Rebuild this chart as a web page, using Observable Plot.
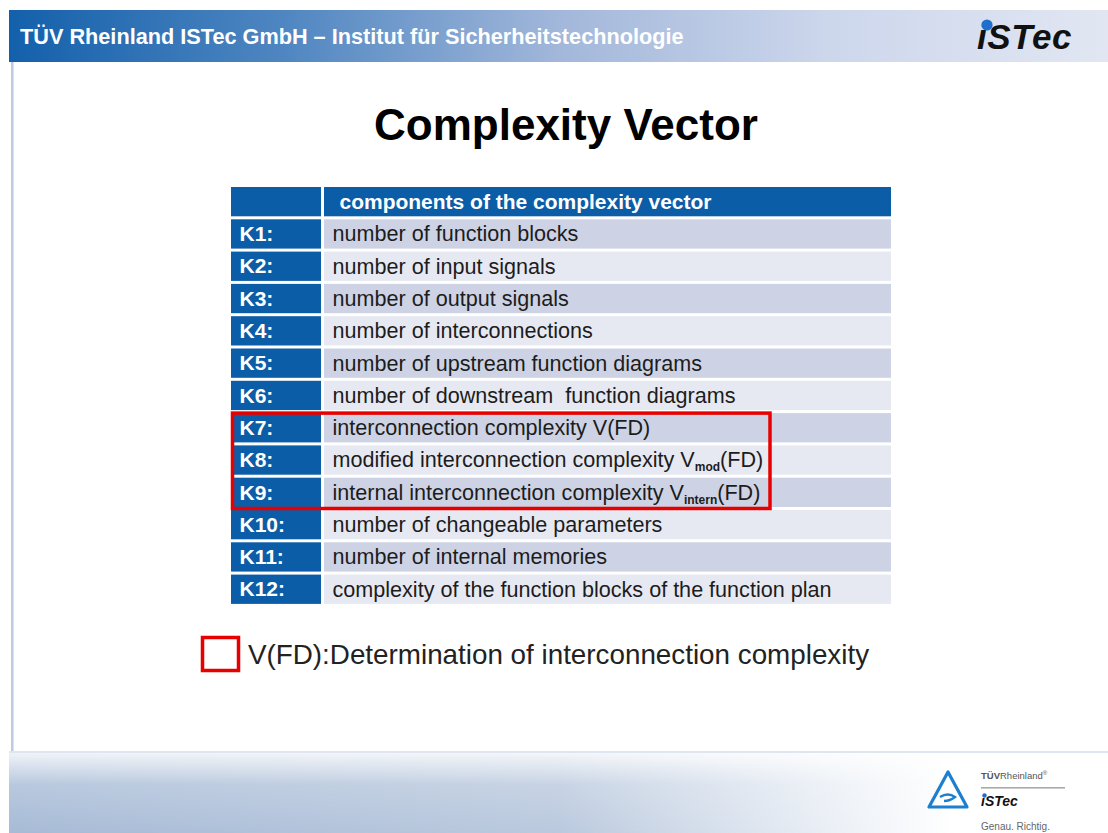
<!DOCTYPE html>
<html><head><meta charset="utf-8">
<script src="https://cdn.jsdelivr.net/npm/d3@7"></script>
<script src="https://cdn.jsdelivr.net/npm/@observablehq/plot@0.6"></script>
<style>
html,body{margin:0;padding:0;background:#fff;}
body{width:1108px;height:833px;position:relative;overflow:hidden;font-family:"Liberation Sans",Arial,sans-serif;}
#bg{position:absolute;left:0;top:0;}
#table{position:absolute;left:227px;top:183px;}
</style></head><body>
<svg id="bg" width="1108" height="833">
  <defs>
    <linearGradient id="band" x1="0" x2="1" y1="0" y2="0">
      <stop offset="0" stop-color="#1360ab"/>
      <stop offset="0.25" stop-color="#4f86c1"/>
      <stop offset="0.5" stop-color="#a2b7da"/>
      <stop offset="0.75" stop-color="#cdd7ec"/>
      <stop offset="1" stop-color="#e1e6f2"/>
    </linearGradient>
    <linearGradient id="foot" x1="0" x2="1" y1="0" y2="0">
      <stop offset="0" stop-color="#a7bbd6"/>
      <stop offset="0.5" stop-color="#bac9de"/>
      <stop offset="0.74" stop-color="#e9eef5"/>
      <stop offset="0.86" stop-color="#ffffff"/>
    </linearGradient>
    <linearGradient id="footv" x1="0" x2="0" y1="0" y2="1">
      <stop offset="0" stop-color="#ffffff" stop-opacity="0.85"/>
      <stop offset="0.4" stop-color="#ffffff" stop-opacity="0.2"/>
      <stop offset="1" stop-color="#ffffff" stop-opacity="0"/>
    </linearGradient>
  </defs>
  <rect x="9" y="10" width="1099" height="52" fill="url(#band)"/>
  <rect x="11" y="62" width="2.5" height="690" fill="#bccae2"/>
  <rect x="9" y="752" width="1099" height="81" fill="url(#foot)"/>
  <rect x="9" y="752" width="1099" height="81" fill="url(#footv)"/>
  <rect x="9" y="751" width="1099" height="2" fill="#dfe6ef"/>
  <g id="texts"></g>
</svg>
<div id="table"></div>
<script>
// ---- data ----
const bannerText = "TÜV Rheinland ISTec GmbH – Institut für Sicherheitstechnologie";
const logoText = "iSTec";
const slideTitle = "Complexity Vector";
const headerLabel = "components of the complexity vector";
const keys = ["K1:", "K2:", "K3:", "K4:", "K5:", "K6:", "K7:", "K8:", "K9:", "K10:", "K11:", "K12:"];
const descriptions = [
  "number of function blocks",
  "number of input signals",
  "number of output signals",
  "number of interconnections",
  "number of upstream function diagrams",
  "number of downstream  function diagrams",
  "interconnection complexity V(FD)",
  "modified interconnection complexity V_{mod}(FD)",
  "internal interconnection complexity V_{intern}(FD)",
  "number of changeable parameters",
  "number of internal memories",
  "complexity of the function blocks of the function plan"
];
const highlighted = ["K7:", "K8:", "K9:"];
const legendLabel = "V(FD):Determination of interconnection complexity";
const footerBrand = ["TÜVRheinland", "®"];
const footerLogo = "iSTec";
const footerSlogan = "Genau. Richtig.";

// ---- decorations / texts ----
const FONT = '"Liberation Sans", Arial, sans-serif';
const g = d3.select("#texts");
g.append("text").attr("x", 20).attr("y", 44).attr("fill", "#fff").attr("font-size", 21.7)
  .attr("font-weight", "bold").attr("font-family", FONT).text(bannerText);
g.append("text").attr("x", 977).attr("y", 49).attr("fill", "#111").attr("font-size", 35)
  .attr("font-weight", "bold").attr("font-style", "italic").attr("letter-spacing", 0.6)
  .attr("font-family", FONT).text(logoText);
g.append("circle").attr("cx", 987).attr("cy", 25).attr("r", 5.6).attr("fill", "#1f6fcf");
g.append("text").attr("x", 566).attr("y", 140).attr("text-anchor", "middle").attr("fill", "#000")
  .attr("font-size", 44).attr("font-weight", "bold").attr("font-family", FONT).text(slideTitle);
// legend
g.append("rect").attr("x", 202.5).attr("y", 637.5).attr("width", 36).attr("height", 33)
  .attr("fill", "none").attr("stroke", "#e80000").attr("stroke-width", 3.5);
g.append("text").attr("x", 248).attr("y", 664).attr("fill", "#222").attr("font-size", 27.8)
  .attr("font-family", FONT).text(legendLabel);
// footer logo
g.append("path").attr("d", "M948,772 L929,807 L967,807 Z").attr("fill", "none")
  .attr("stroke", "#1c7fcf").attr("stroke-width", 3.2).attr("stroke-linejoin", "round");
g.append("path").attr("d", "M940,797 Q948,792 955,797 Q950,801 944,801").attr("fill", "none")
  .attr("stroke", "#1c7fcf").attr("stroke-width", 2.4);
const fb = g.append("text").attr("x", 981).attr("y", 779).attr("fill", "#555").attr("font-size", 9.5).attr("font-family", FONT);
fb.append("tspan").attr("font-weight", "bold").text(footerBrand[0].slice(0, 3));
fb.append("tspan").text(footerBrand[0].slice(3));
fb.append("tspan").attr("font-size", 6).attr("dy", -4).text(footerBrand[1]);
g.append("rect").attr("x", 981).attr("y", 787).attr("width", 84).attr("height", 1.6).attr("fill", "#aaa");
g.append("text").attr("x", 981).attr("y", 806).attr("fill", "#111").attr("font-size", 14)
  .attr("font-weight", "bold").attr("font-style", "italic").attr("font-family", FONT).text(footerLogo);
g.append("circle").attr("cx", 984.5).attr("cy", 795.5).attr("r", 2.2).attr("fill", "#1f6fcf");
g.append("text").attr("x", 981).attr("y", 830).attr("fill", "#666").attr("font-size", 10)
  .attr("font-family", FONT).text(footerSlogan);

// ---- table (Plot) ----
const rows = [{key: "", desc: headerLabel, kind: "header"}]
  .concat(keys.map((k, i) => ({key: k, desc: descriptions[i], kind: i % 2 === 0 ? "odd" : "even"})));
rows.forEach((r, i) => r.i = i);
const body = rows.filter(r => r.kind !== "header");
const head = rows.filter(r => r.kind === "header");
const fills = {header: "#0b5da7", odd: "#cdd3e4", even: "#e7e9f2"};
const M = 4, ROW_H = 32.3, TABLE_W = 660, KEY_W = 93, BOX_W = 539;
const H = rows.length * ROW_H + 2 * M;
const y1Box = keys.indexOf(highlighted[0]) + 1;
const y2Box = keys.indexOf(highlighted[highlighted.length - 1]) + 2;

const chart = Plot.plot({
  width: TABLE_W + 2 * M, height: H, margin: M,
  x: {domain: [0, TABLE_W], range: [M, M + TABLE_W], axis: null},
  y: {domain: [0, rows.length], range: [M, H - M], axis: null},
  color: {type: "identity"},
  style: {fontFamily: FONT, background: "transparent", overflow: "visible"},
  marks: [
    Plot.rect(rows, {x1: 0, x2: KEY_W, y1: "i", y2: d => d.i + 1, fill: fills.header, insetRight: 3, insetBottom: 3}),
    Plot.rect(rows, {x1: KEY_W, x2: TABLE_W, y1: "i", y2: d => d.i + 1, fill: d => fills[d.kind], insetBottom: 3}),
    Plot.text(body, {x: 8, y: d => d.i + 0.5, dy: -1.5, text: "key", fill: "white", fontWeight: "bold", fontSize: 21, textAnchor: "start"}),
    Plot.text(head, {x: 108, y: d => d.i + 0.5, dy: -1.5, text: "desc", fill: "white", fontWeight: "bold", fontSize: 21, textAnchor: "start"}),
    Plot.text(body, {x: 101, y: d => d.i + 0.5, dy: -1.5, text: "desc", fill: "#1c1c1c", fontSize: 21.6, textAnchor: "start"}),
    Plot.rect([highlighted], {x1: 0, x2: BOX_W, y1: y1Box, y2: y2Box, fill: "none", stroke: "#e80000", strokeWidth: 3.5, insetLeft: 1.5, insetBottom: 1.5})
  ]
});
// subscripts
d3.select(chart).selectAll("text").each(function() {
  const t = this.textContent;
  const m = t.match(/^(.*)_\{(.+)\}(.*)$/);
  if (!m) return;
  const s = d3.select(this);
  s.text(null);
  s.append("tspan").text(m[1]);
  s.append("tspan").attr("font-size", 12).attr("font-weight", "bold").attr("dy", 4).text(m[2]);
  s.append("tspan").attr("dy", -4).text(m[3]);
});
document.getElementById("table").append(chart);
</script>
</body></html>
